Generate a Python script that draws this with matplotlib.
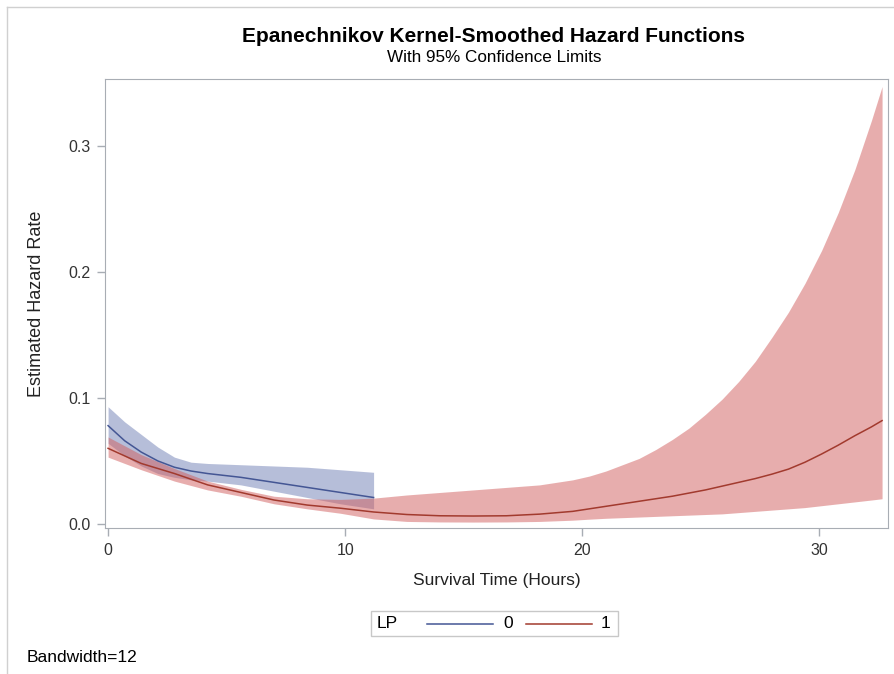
import matplotlib.pyplot as plt
from matplotlib.lines import Line2D
from matplotlib.patches import Rectangle

plt.rcParams['font.family'] = ['Liberation Sans', 'DejaVu Sans']

# LP = 0 : smoothed hazard with 95% limits
time_lp0 = [0, 0.35, 0.7, 1.4, 2.1, 2.8, 3.5, 4.2, 5.6, 7.0, 8.4, 9.8, 11.2]
haz_lp0 = [0.078, 0.072, 0.066, 0.057, 0.050, 0.045, 0.042, 0.040, 0.037, 0.033, 0.029, 0.025, 0.021]
upper_lp0 = [0.093, 0.087, 0.081, 0.071, 0.061, 0.053, 0.049, 0.048, 0.047, 0.046, 0.045, 0.043, 0.041]
lower_lp0 = [0.064, 0.059, 0.054, 0.046, 0.040, 0.037, 0.035, 0.034, 0.031, 0.026, 0.021, 0.016, 0.012]

# LP = 1
time_lp1 = [0, 1.4, 2.8, 4.2, 5.6, 7.0, 8.4, 9.8, 11.2, 12.6, 14.0, 15.4, 16.8,
            18.2, 19.6, 20.3, 21.0, 21.7, 22.4, 23.1, 23.8, 24.5, 25.2, 25.9, 26.6,
            27.3, 28.0, 28.7, 29.4, 30.1, 30.8, 31.5, 32.2, 32.65]
haz_lp1 = [0.060, 0.048, 0.040, 0.031, 0.025, 0.019, 0.015, 0.0125, 0.0095, 0.0075,
           0.0065, 0.0063, 0.0065, 0.0078, 0.0100, 0.012, 0.014, 0.016, 0.018, 0.020,
           0.022, 0.0245, 0.027, 0.030, 0.033, 0.036, 0.0395, 0.0435, 0.049, 0.0555,
           0.0625, 0.070, 0.077, 0.082]
upper_lp1 = [0.069, 0.055, 0.044, 0.034, 0.0275, 0.022, 0.020, 0.0195, 0.0205, 0.023,
             0.025, 0.027, 0.029, 0.031, 0.035, 0.038, 0.042, 0.047, 0.052, 0.059,
             0.067, 0.076, 0.087, 0.099, 0.113, 0.129, 0.148, 0.168, 0.191, 0.217,
             0.247, 0.281, 0.320, 0.347]
lower_lp1 = [0.053, 0.043, 0.034, 0.027, 0.022, 0.016, 0.012, 0.0085, 0.004, 0.002,
             0.0016, 0.0015, 0.0016, 0.002, 0.003, 0.0038, 0.0045, 0.005, 0.0055, 0.006,
             0.0065, 0.007, 0.0075, 0.008, 0.009, 0.010, 0.011, 0.012, 0.013, 0.0145,
             0.016, 0.0175, 0.019, 0.020]

x_ticks = [0, 10, 20, 30]
y_ticks = [0.0, 0.1, 0.2, 0.3]
groups = ['0', '1']

blue = '#445694'
red = '#A23A2E'
blue_band = '#6f7fb5'
red_band = '#d15d5d'
frame = '#a8adb4'

W, H = 894, 674


def px(x, y):
    # pixel position (from top-left) -> figure fraction
    return x / W, 1 - y / H


fig = plt.figure(figsize=(W / 100, H / 100), dpi=100)
ax = fig.add_axes([105 / W, 1 - 528 / H, (888 - 105) / W, (528 - 79) / H])

ax.fill_between(time_lp0, lower_lp0, upper_lp0, color=blue_band, alpha=0.5, lw=0)
ax.fill_between(time_lp1, lower_lp1, upper_lp1, color=red_band, alpha=0.5, lw=0)
ax.plot(time_lp0, haz_lp0, color=blue, lw=1.1)
ax.plot(time_lp1, haz_lp1, color=red, lw=1.1)

ax.set_xlim(-0.13, 32.9)
ax.set_ylim(-0.0032, 0.353)
ax.set_xticks(x_ticks)
ax.set_yticks(y_ticks)
ax.set_yticklabels(['%.1f' % v for v in y_ticks])
for s in ax.spines.values():
    s.set_color(frame)
ax.tick_params(colors=frame, labelcolor='#333333', labelsize=11.5, length=6, width=1, pad=4.5)

ax.set_xlabel('Survival Time (Hours)', fontsize=12.5, color='#222222', labelpad=11)
ax.set_ylabel('Estimated Hazard Rate', fontsize=13, color='#222222', labelpad=17)

fig.text(*px(494, 36), 'Epanechnikov Kernel-Smoothed Hazard Functions',
         ha='center', va='center', fontsize=15, fontweight='bold')
fig.text(*px(494, 58), 'With 95% Confidence Limits',
         ha='center', va='center', fontsize=12.3)

# legend drawn by hand: "LP  ---- 0  ---- 1" in a thin box
x0, y0 = px(371, 636)
x1, y1 = px(618, 611)
fig.add_artist(Rectangle((x0, y0), x1 - x0, y1 - y0, transform=fig.transFigure,
                         facecolor='white', edgecolor='#c8c8c8', lw=1))
ly = 1 - 623.5 / H
fig.text(377 / W, ly, 'LP', ha='left', va='center', fontsize=12.5)
for (xa, xb, xt), col, lab in zip([(427, 493, 503), (526, 592, 601)], [blue, red], groups):
    fig.add_artist(Line2D([xa / W, xb / W], [ly, ly], color=col, lw=1.1))
    fig.text(xt / W, ly, lab, ha='left', va='center', fontsize=12.5)

fig.text(*px(27, 657), 'Bandwidth=12', ha='left', va='center', fontsize=12.5)

# thin outer border along the top and left edge
fig.add_artist(Line2D([7 / W, 1], [1 - 7 / H, 1 - 7 / H], color='#d0d0d0', lw=1))
fig.add_artist(Line2D([7 / W, 7 / W], [0, 1 - 7 / H], color='#d0d0d0', lw=1))

fig.savefig('out.png', dpi=100)
